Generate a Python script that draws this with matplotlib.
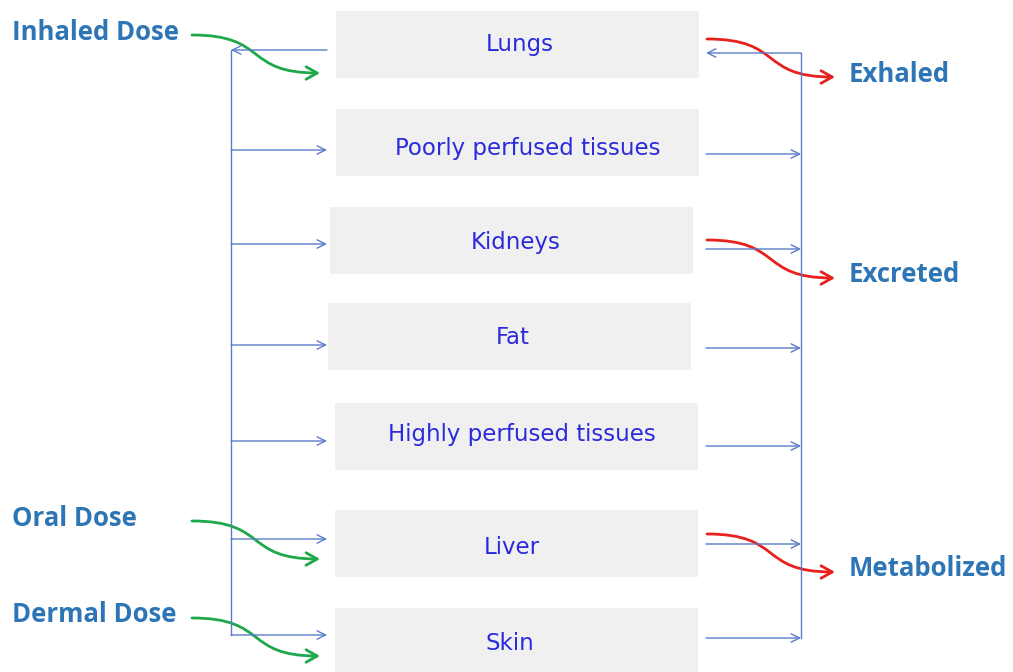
import matplotlib.pyplot as plt
from matplotlib.patches import Rectangle, FancyArrowPatch
from matplotlib.path import Path

compartments = ["Lungs", "Poorly perfused tissues", "Kidneys", "Fat",
                "Highly perfused tissues", "Liver", "Skin"]
doses = ["Inhaled Dose", "Oral Dose", "Dermal Dose"]
dose_targets = ["Lungs", "Liver", "Skin"]
outputs = ["Exhaled", "Excreted", "Metabolized"]
output_sources = ["Lungs", "Kidneys", "Liver"]

# layout in pixel coordinates (y grows downwards)
box_left = [336, 336, 330, 328, 335, 335, 335]
box_top = [11, 109, 207, 303, 403, 510, 608]
box_w, box_h = 363, 67
text_xy = [(520, 45), (528, 148), (516, 243), (513, 338), (522, 434), (512, 548), (510, 643)]
left_y = [50, 150, 244, 345, 441, 539, 635]
right_y = [53, 154, 249, 348, 446, 544, 638]
dose_label_y = [32, 518, 615]
out_label_y = [74, 275, 569]

fig = plt.figure(figsize=(10.13, 6.72), dpi=100)
ax = fig.add_axes([0, 0, 1, 1])
ax.set_xlim(0, 1013)
ax.set_ylim(672, 0)
ax.axis("off")

line_c = "#5b7bc8"
box_c = "#f0f0f0"
txt_c = "#2b2bdc"
lab_c = "#2e75b6"

for i, name in enumerate(compartments):
    ax.add_patch(Rectangle((box_left[i], box_top[i]), box_w, box_h,
                           facecolor=box_c, edgecolor="none"))
    ax.text(text_xy[i][0], text_xy[i][1], name, color=txt_c, fontsize=16.5,
            ha="center", va="center", family="DejaVu Sans")

# left (arterial) and right (venous) collectors
ax.plot([231, 231], [left_y[0], left_y[-1]], color=line_c, lw=1)
ax.plot([801, 801], [right_y[0], right_y[-1]], color=line_c, lw=1)
arr = dict(arrowstyle="->,head_length=0.6,head_width=0.3", color=line_c, lw=1,
           shrinkA=0, shrinkB=0)
for i in range(len(compartments)):
    if i == 0:
        ax.annotate("", xy=(231, left_y[i]), xytext=(327, left_y[i]), arrowprops=arr)
        ax.annotate("", xy=(706, right_y[i]), xytext=(801, right_y[i]), arrowprops=arr)
    else:
        ax.annotate("", xy=(327, left_y[i]), xytext=(231, left_y[i]), arrowprops=arr)
        ax.annotate("", xy=(801, right_y[i]), xytext=(706, right_y[i]), arrowprops=arr)


def s_arrow(x0, y0, x1, y1, color):
    dx = x1 - x0
    verts = [(x0, y0), (x0 + dx * 0.6, y0), (x0 + dx * 0.4, y1), (x1, y1)]
    path = Path(verts, [Path.MOVETO, Path.CURVE4, Path.CURVE4, Path.CURVE4])
    ax.add_patch(FancyArrowPatch(path=path, arrowstyle="->,head_length=8,head_width=4.5",
                                 color=color, lw=2, mutation_scale=1))


for lab, tgt, ly in zip(doses, dose_targets, dose_label_y):
    ax.text(12, ly, lab, color=lab_c, fontsize=18.5, fontweight="bold",
            ha="left", va="center", family="Open Sans")
    s_arrow(192, ly + 3, 320, ly + 41, "#1fa84a")

for lab, src, ly in zip(outputs, output_sources, out_label_y):
    ax.text(849, ly, lab, color=lab_c, fontsize=18.5, fontweight="bold",
            ha="left", va="center", family="Open Sans")
    s_arrow(707, ly - 35, 835, ly + 3, "#e8201e")

fig.savefig("out.png", dpi=100)
